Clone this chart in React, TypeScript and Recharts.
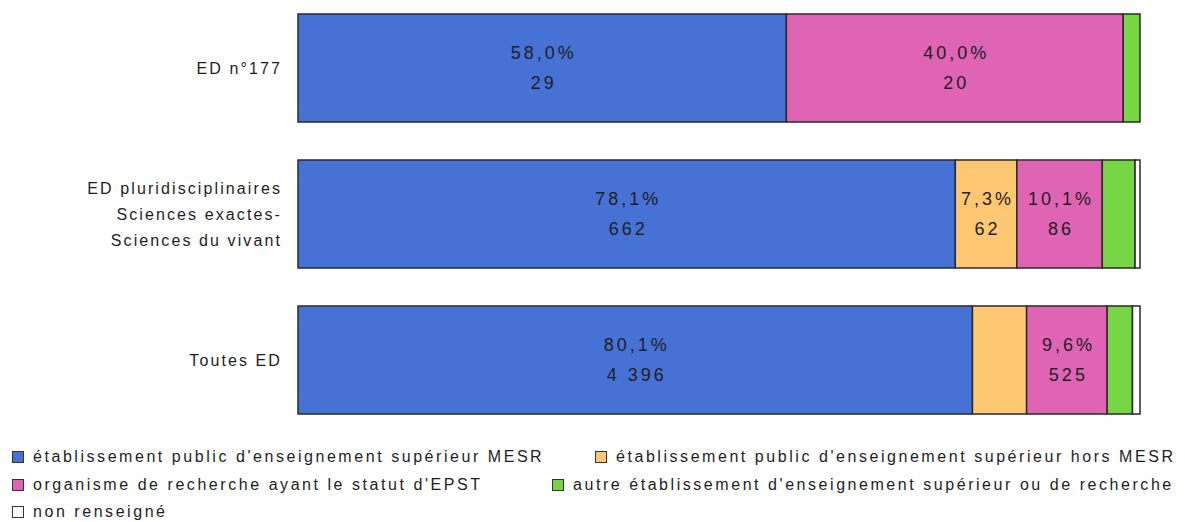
import React from 'react';
import { BarChart, Bar, XAxis, YAxis, LabelList } from 'recharts';

const categories = ['ED n°177', 'ED pluridisciplinaires\nSciences exactes-\nSciences du vivant', 'Toutes ED'];
const seriesNames = [
  "établissement public d'enseignement supérieur MESR",
  "établissement public d'enseignement supérieur hors MESR",
  "organisme de recherche ayant le statut d'EPST",
  "autre établissement d'enseignement supérieur ou de recherche",
  'non renseigné',
];
const seriesColors = ['#4672d6', '#fec872', '#e064b4', '#76d542', '#ffffff'];
const mesr = [29, 662, 4396];
const horsMesr = [0, 62, 353];
const epst = [20, 86, 525];
const autre = [1, 33, 165];
const nonRenseigne = [0, 5, 49];

const seriesValues = [mesr, horsMesr, epst, autre, nonRenseigne];
const totals = categories.map((_, i) => seriesValues.reduce((s, arr) => s + arr[i], 0));

const fmtPct = (v: number) => v.toFixed(1).replace('.', ',') + '%';
const fmtCount = (v: number) => String(v).replace(/\B(?=(\d{3})+(?!\d))/g, ' ');

const data = categories.map((name, i) => {
  const row: Record<string, any> = { name };
  seriesValues.forEach((arr, k) => {
    row['s' + k] = arr[i];
    const pct = (arr[i] / totals[i]) * 100;
    row['lab' + k] = pct >= 7 ? fmtPct(pct) + '|' + fmtCount(arr[i]) : '';
  });
  return row;
});

const FONT = '"Liberation Sans", Arial, sans-serif';
const TEXT = '#1e1e1e';

const BarLabel = (props: any) => {
  const { x, y, width, height, value } = props;
  if (!value) return null;
  const [p, c] = String(value).split('|');
  const cx = Number(x) + Number(width) / 2;
  const cy = Number(y) + Number(height) / 2;
  return (
    <text x={cx} y={cy} textAnchor="middle" fill={TEXT} fontFamily={FONT} fontSize={18} style={{ letterSpacing: '3px' }}>
      <tspan x={cx + 1.5} y={cy - 15} dominantBaseline="central">{p}</tspan>
      <tspan x={cx + 1.5} y={cy + 15} dominantBaseline="central">{c}</tspan>
    </text>
  );
};

const CategoryTick = (props: any) => {
  const { x, y, payload } = props;
  const lines = String(payload.value).split('\n');
  const lh = 26;
  const start = y - ((lines.length - 1) * lh) / 2;
  return (
    <text textAnchor="end" fill={TEXT} fontFamily={FONT} fontSize={16} style={{ letterSpacing: '2.1px' }}>
      {lines.map((l, i) => (
        <tspan key={i} x={x} y={start + i * lh} dominantBaseline="central">{l}</tspan>
      ))}
    </text>
  );
};

const legendRows = [[0, 1], [2, 3], [4]];
const legendSecondLeft = [595, 552];

const LegendBlock = () => (
  <div style={{ position: 'absolute', left: 0, top: 446, width: 1185, height: 76, fontFamily: FONT, fontSize: 16, color: TEXT, letterSpacing: '2.55px' }}>
    {legendRows.map((row, r) =>
      row.map((k, j) => (
        <div
          key={k}
          style={{
            position: 'absolute',
            left: j === 0 ? 12 : legendSecondLeft[r],
            top: r * 27.5,
            height: 22,
            display: 'flex',
            alignItems: 'center',
            whiteSpace: 'nowrap',
          }}
        >
          <span
            style={{
              display: 'inline-block',
              width: 10,
              height: 10,
              border: '1px solid #333',
              background: seriesColors[k],
              marginRight: 9,
            }}
          />
          <span>{seriesNames[k]}</span>
        </div>
      ))
    )}
  </div>
);

export default function App() {
  return (
    <div style={{ position: 'absolute', left: 0, top: 0, width: 1185, height: 522, background: '#fff' }}>
      <div style={{ position: 'absolute', left: 0, top: -5 }}>
        <BarChart
          width={1185}
          height={527}
          data={data}
          layout="vertical"
          stackOffset="expand"
          margin={{ top: 0, right: 45, bottom: 89, left: 0 }}
        >
          <XAxis type="number" hide domain={[0, 1]} />
          <YAxis
            type="category"
            dataKey="name"
            width={298}
            axisLine={false}
            tickLine={false}
            tickSize={0}
            tickMargin={16}
            tick={<CategoryTick />}
          />
          {seriesNames.map((n, k) => (
            <Bar
              key={k}
              dataKey={'s' + k}
              name={n}
              stackId="a"
              fill={seriesColors[k]}
              stroke="#2a2a2a"
              strokeWidth={1.5}
              barSize={108}
              isAnimationActive={false}
            >
              <LabelList dataKey={'lab' + k} content={<BarLabel />} />
            </Bar>
          ))}
        </BarChart>
      </div>
      <LegendBlock />
    </div>
  );
}
